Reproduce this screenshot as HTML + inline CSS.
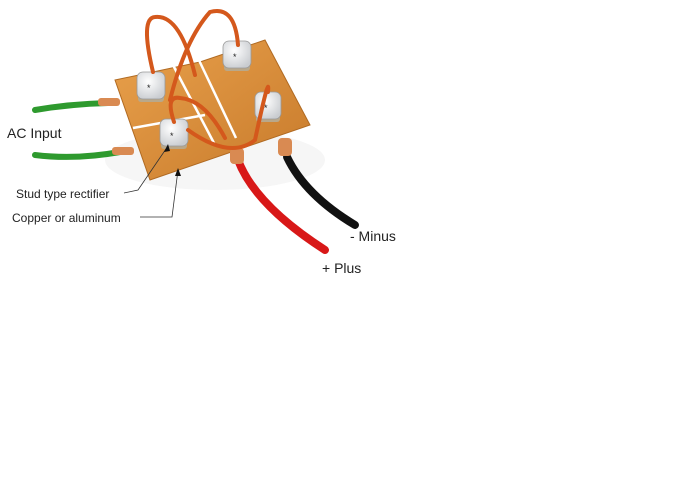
<!DOCTYPE html>
<html><head><meta charset="utf-8"><style>
html,body{margin:0;padding:0;background:#fff;width:700px;height:477px;overflow:hidden}
svg{display:block}
text{font-family:"Liberation Sans",sans-serif;fill:#222}
</style></head><body>
<svg width="700" height="477" viewBox="0 0 700 477">
<defs>
<linearGradient id="cu" x1="0" y1="0" x2="1" y2="1"><stop offset="0" stop-color="#e9a14c"/><stop offset="1" stop-color="#c77a2b"/></linearGradient>
<radialGradient id="st" cx="0.4" cy="0.35" r="0.7"><stop offset="0" stop-color="#fff"/><stop offset="1" stop-color="#c9ccd0"/></radialGradient>
</defs>
<ellipse cx="215" cy="160" rx="110" ry="30" fill="#f6f6f6"/>
<path d="M35 110 Q70 104 108 103" stroke="#2e9a2e" stroke-width="6" fill="none" stroke-linecap="round"/>
<path d="M35 155 Q75 160 120 152" stroke="#2e9a2e" stroke-width="6" fill="none" stroke-linecap="round"/>
<rect x="98" y="98" width="22" height="8" rx="3" fill="#d98a52"/>
<rect x="112" y="147" width="22" height="8" rx="3" fill="#d98a52"/>
<polygon points="115,80 200,62 265,40 310,125 150,180" fill="url(#cu)" stroke="#b06a22" stroke-width="1"/>
<line x1="173" y1="65" x2="215" y2="145" stroke="#fff" stroke-width="2.5"/>
<line x1="197" y1="56" x2="236" y2="138" stroke="#fff" stroke-width="2.5"/>
<line x1="133" y1="128" x2="205" y2="115" stroke="#fff" stroke-width="2.5"/>
<path d="M238 160 Q255 205 325 250" stroke="#d81818" stroke-width="8" fill="none" stroke-linecap="round"/>
<path d="M287 157 Q305 195 355 225" stroke="#111" stroke-width="8" fill="none" stroke-linecap="round"/>
<rect x="230" y="148" width="14" height="16" rx="4" fill="#d98a52"/>
<rect x="278" y="138" width="14" height="18" rx="4" fill="#d98a52"/>
<g fill="#b9a88a"><rect x="138" y="92" width="26" height="10" rx="3"/><rect x="161" y="139" width="26" height="10" rx="3"/><rect x="224" y="61" width="26" height="10" rx="3"/><rect x="256" y="112" width="24" height="10" rx="3"/></g>
<g fill="url(#st)" stroke="#999" stroke-width="0.8">
<rect x="137" y="72" width="28" height="27" rx="6"/><rect x="160" y="119" width="28" height="27" rx="6"/>
<rect x="223" y="41" width="28" height="27" rx="6"/><rect x="255" y="92" width="26" height="27" rx="6"/>
</g>
<g fill="#222" font-size="9"><text x="147" y="91">*</text><text x="170" y="139">*</text><text x="233" y="60">*</text><text x="264" y="111">*</text></g>
<g stroke="#d4581c" stroke-width="4" fill="none" stroke-linecap="round">
<path d="M153 72 Q140 18 155 17 Q180 14 195 75"/>
<path d="M170 100 Q185 40 210 12 Q235 5 238 45"/>
<path d="M174 122 Q165 95 180 98 Q205 100 225 138"/>
<path d="M188 130 Q230 160 255 140 Q270 70 268 92"/>
</g>
<g stroke="#333" stroke-width="0.8" fill="none">
<path d="M124 193 L138 190 L168 146"/><path d="M140 217 L172 217 L178 170"/>
</g>
<polygon points="168,144 164,152 170,151" fill="#111"/>
<polygon points="178,168 175,176 181,176" fill="#111"/>
<text x="7" y="138" font-size="14">AC Input</text>
<text x="16" y="198" font-size="12">Stud type rectifier</text>
<text x="12" y="222" font-size="12">Copper or aluminum</text>
<text x="350" y="241" font-size="14">- Minus</text>
<text x="322" y="273" font-size="14">+ Plus</text>
</svg>
</body></html>
